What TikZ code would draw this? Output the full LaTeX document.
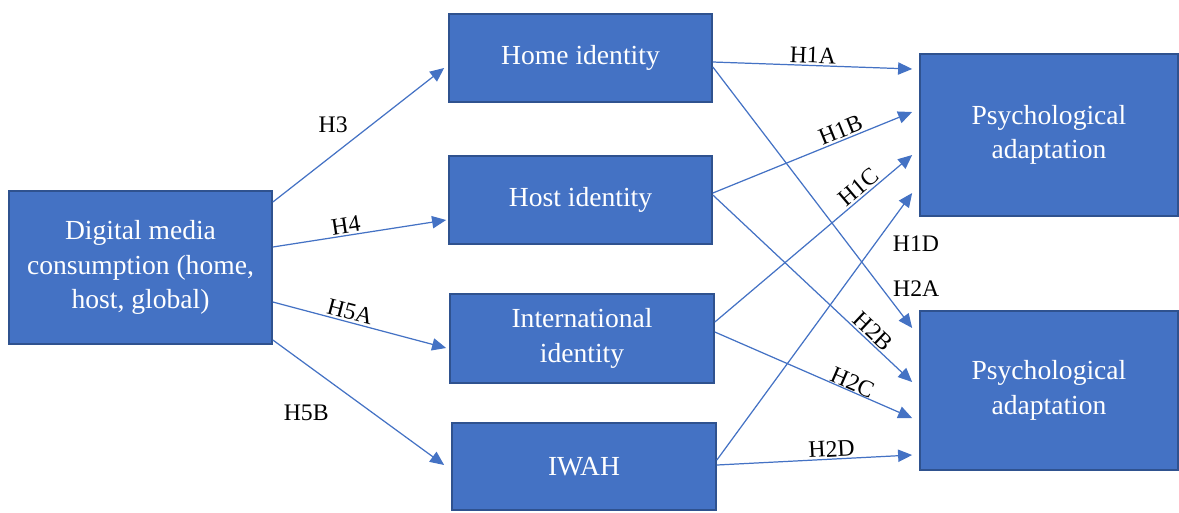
\documentclass[tikz,border=0pt]{standalone}
\usepackage{fontspec}
\setmainfont{Liberation Serif}
\usetikzlibrary{arrows.meta,positioning,calc}
\definecolor{boxblue}{HTML}{4472C4}
\definecolor{boxedge}{HTML}{2F528F}

\begin{document}
\begin{tikzpicture}[x=0.02cm, y=-0.02cm, line width=0.7pt, main node/.style={rectangle,draw=boxedge,fill=boxblue,line width=1pt,text=white,align=center,inner sep=0pt,font=\fontsize{15.7}{19.6}\selectfont}, arr/.style={color=boxblue,-{Triangle[length=8pt,width=7pt]}}, lbl/.style={font=\fontsize{13.5}{16}\selectfont,text=black,inner sep=1pt}]
\useasboundingbox (0,0) rectangle (1179,512);
\begin{scope}
\node[main node,minimum width=5.26cm,minimum height=3.06cm] (media) at (140.5,267.5) {Digital media\\consumption (home,\\host, global)};
\node[main node,minimum width=5.26cm,minimum height=1.76cm] (home) at (580.5,58) {Home identity};
\node[main node,minimum width=5.26cm,minimum height=1.76cm] (host) at (580.5,200) {Host identity};
\node[main node,minimum width=5.28cm,minimum height=1.78cm] (intl) at (582,338.5) {International\\identity};
\node[main node,minimum width=5.28cm,minimum height=1.74cm] (iwah) at (584,466.5) {IWAH};
\node[main node,minimum width=5.16cm,minimum height=3.24cm] (adapt1) at (1049,135) {Psychological\\adaptation};
\node[main node,minimum width=5.16cm,minimum height=3.18cm] (adapt2) at (1049,390.5) {Psychological\\adaptation};
\end{scope}
\begin{scope}[every edge/.append style={arr}]
\draw ($(media.east)+(0,-65.5)$) edge node[lbl,pos=.58,xshift=-0.78cm]{H3} ($(home.west)+(-4,10)$);
\draw ($(media.east)+(0,-20.5)$) edge node[lbl,sloped,above,pos=.43]{H4} ($(host.west)+(-2,20)$);
\draw ($(media.east)+(0,34.5)$) edge node[lbl,sloped,above,pos=.43]{H5A} ($(intl.west)+(-3,9.5)$);
\draw ($(media.east)+(0,72.5)$) edge node[lbl,pos=.58,xshift=-1.32cm]{H5B} ($(iwah.west)+(-7,-1.5)$);
\draw ($(home.east)+(0,4)$) edge node[lbl,sloped,above,pos=.5]{H1A} ($(adapt1.west)+(-7,-66)$);
\draw ($(home.east)+(0,9)$) edge node[lbl,pos=.85,xshift=0.68cm]{H2A} ($(adapt2.west)+(-7,-62.5)$);
\draw ($(host.east)+(0,-7)$) edge node[lbl,sloped,above,pos=.66]{H1B} ($(adapt1.west)+(-7,-23)$);
\draw ($(host.east)+(0,-5)$) edge node[lbl,sloped,above,pos=.77]{H2B} ($(adapt2.west)+(-7,-8.5)$);
\draw ($(intl.east)+(0,-16.5)$) edge node[lbl,sloped,above,pos=.76]{H1C} ($(adapt1.west)+(-7,20)$);
\draw ($(intl.east)+(0,-6.5)$) edge node[lbl,sloped,above,pos=.68,inner sep=0pt]{H2C} ($(adapt2.west)+(-7,27.5)$);
\draw ($(iwah.east)+(0,-6.5)$) edge node[lbl,pos=.81,xshift=0.82cm]{H1D} ($(adapt1.west)+(-7,58)$);
\draw ($(iwah.east)+(0,-1.5)$) edge node[lbl,sloped,above,pos=.59]{H2D} ($(adapt2.west)+(-7,64.5)$);
\end{scope}
\end{tikzpicture}
\end{document}
